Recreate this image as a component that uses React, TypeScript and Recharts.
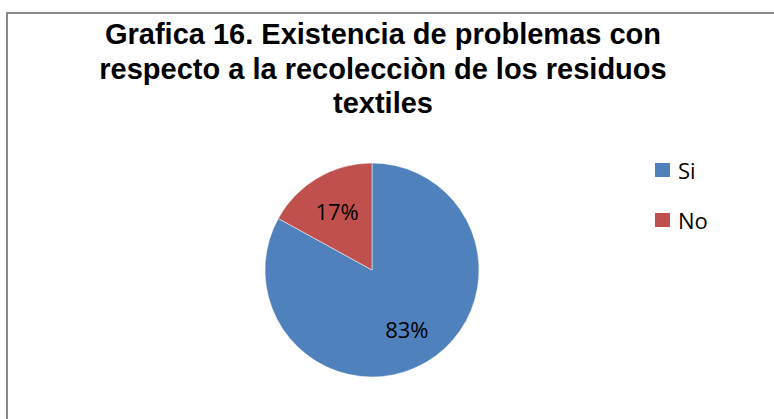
import React from "react";
import { PieChart, Pie, Cell, Legend } from "recharts";

const categories = ["Si", "No"];
const values = [83, 17];
const colors = ["#4F81BD", "#C0504D"];
const titleLines = [
  "Grafica 16. Existencia de problemas con",
  "respecto a la recolecciòn de los residuos",
  "textiles",
];

const data = categories.map((name, i) => ({ name, value: values[i] }));
const RAD = Math.PI / 180;

function renderLabel(props: any) {
  const { cx, cy, midAngle, outerRadius, percent } = props;
  const r = outerRadius * 0.64;
  const x = cx + r * Math.cos(-midAngle * RAD);
  const y = cy + r * Math.sin(-midAngle * RAD);
  return (
    <text
      x={x}
      y={y}
      fill="#000"
      textAnchor="middle"
      dominantBaseline="central"
      fontFamily="'Open Sans', sans-serif"
      fontSize={22}
    >
      {`${Math.round(percent * 100)}%`}
    </text>
  );
}

function LegendContent() {
  return (
    <div style={{ fontFamily: "'Open Sans', sans-serif", fontSize: 22 }}>
      {data.map((d, i) => (
        <div key={d.name} style={{ display: "flex", alignItems: "center", height: 50 }}>
          <span style={{ width: 15, height: 14, background: colors[i], marginRight: 8 }} />
          <span>{d.name}</span>
        </div>
      ))}
    </div>
  );
}

export default function App() {
  return (
    <div style={{ position: "fixed", left: 0, top: 0, width: 774, height: 419, background: "#fff", overflow: "hidden" }}>
      <div
        style={{
          position: "absolute",
          left: 0,
          top: 17,
          width: 766,
          textAlign: "center",
          fontFamily: "'Liberation Sans', Arial, sans-serif",
          fontWeight: "bold",
          fontSize: 29,
          lineHeight: "34.5px",
        }}
      >
        {titleLines.map((t) => (
          <div key={t}>{t}</div>
        ))}
      </div>
      <div style={{ position: "absolute", left: 0, top: 0 }}>
        <PieChart width={774} height={419} margin={{ top: 0, right: 0, bottom: 0, left: 0 }}>
          <Pie
            data={data}
            dataKey="value"
            nameKey="name"
            cx={372}
            cy={270}
            outerRadius={107}
            startAngle={90}
            endAngle={-270}
            stroke="#fff"
            strokeWidth={0.5}
            label={renderLabel}
            labelLine={false}
            isAnimationActive={false}
          >
            {data.map((d, i) => (
              <Cell key={d.name} fill={colors[i]} />
            ))}
          </Pie>
          <Legend
            layout="vertical"
            align="right"
            verticalAlign="top"
            content={<LegendContent />}
            wrapperStyle={{ left: 655, top: 145, width: 100 }}
          />
        </PieChart>
      </div>
      <div style={{ position: "absolute", left: 6, top: 12, width: 2, height: 420, background: "#888" }} />
      <div style={{ position: "absolute", left: 6, top: 12, width: 780, height: 2, background: "#888" }} />
    </div>
  );
}
